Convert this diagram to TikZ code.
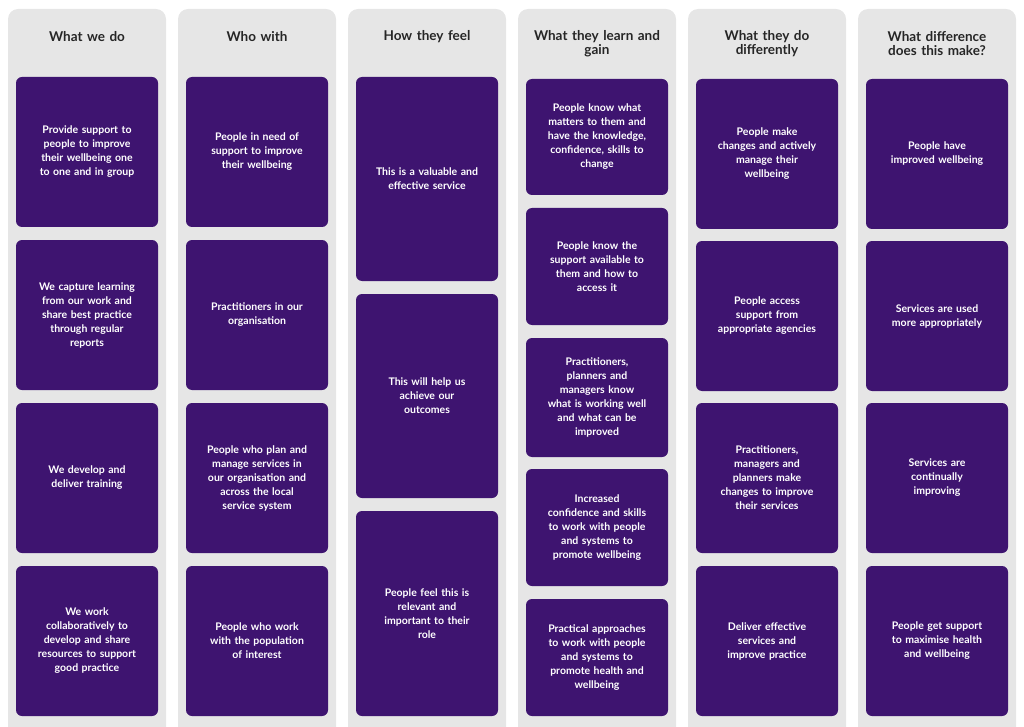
\documentclass[tikz,border=0pt]{standalone}
\usepackage{fontspec}
\setmainfont{Lato}
\begin{document}
\begin{tikzpicture}[x=1pt,y=-1pt,
  col/.style={fill=colgray,rounded corners=10pt},
  card/.style={fill=cardpurple,text=white,rounded corners=6pt,align=center,text width=112pt,
    font=\fontsize{10.5}{14}\selectfont\bfseries, drop shadow/.style={}},
  head/.style={text=black!85,align=center,font=\fontsize{13.5}{14}\selectfont\bfseries,text width=150pt}]
\definecolor{colgray}{HTML}{E6E6E6}
\definecolor{cardpurple}{HTML}{3E1470}
\useasboundingbox (0,0) rectangle (1024,727);
% columns
\foreach \i in {0,...,5}{
  \fill[colgray,rounded corners=10pt] (8+\i*170,9) rectangle (166+\i*170,737);
}
\node[head] (h1) at (87,37) {What we do};
\node[head] (h2) at (257,37) {Who with};
\node[head] (h3) at (427,37) {How they feel};
\node[head] (h4) at (597,44) {What they learn and\\gain};
\node[head] (h5) at (767,44) {What they do\\differently};
\node[head] (h6) at (937,44) {What difference\\does this make?};
% helper macro for cards
\newcommand{\mycard}[6]{\fill[cardpurple,rounded corners=6pt] (#2,#3) rectangle (#4,#5);
  \node[card,fill=none] (#1) at ({(#2+#4)/2},{(#3+#5)/2}) {#6};}
% col1
\mycard{a1}{16}{77}{158}{227}{Provide support to\\people to improve\\their wellbeing one\\to one and in group}
\mycard{a2}{16}{240}{158}{390}{We capture learning\\from our work and\\share best practice\\through regular\\reports}
\mycard{a3}{16}{403}{158}{553}{We develop and\\deliver training}
\mycard{a4}{16}{566}{158}{716}{We work\\collaboratively to\\develop and share\\resources to support\\good practice}
% col2
\mycard{b1}{186}{77}{328}{227}{People in need of\\support to improve\\their wellbeing}
\mycard{b2}{186}{240}{328}{390}{Practitioners in our\\organisation}
\mycard{b3}{186}{403}{328}{553}{People who plan and\\manage services in\\our organisation and\\across the local\\service system}
\mycard{b4}{186}{566}{328}{716}{People who work\\with the population\\of interest}
% col3
\mycard{c1}{356}{77}{498}{281}{This is a valuable and\\effective service}
\mycard{c2}{356}{294}{498}{498}{This will help us\\achieve our\\outcomes}
\mycard{c3}{356}{511}{498}{716}{People feel this is\\relevant and\\important to their\\role}
% col4
\mycard{d1}{526}{79}{668}{195}{People know what\\matters to them and\\have the knowledge,\\confidence, skills to\\change}
\mycard{d2}{526}{208}{668}{325}{People know the\\support available to\\them and how to\\access it}
\mycard{d3}{526}{338}{668}{457}{Practitioners,\\planners and\\managers know\\what is working well\\and what can be\\improved}
\mycard{d4}{526}{469}{668}{586}{Increased\\confidence and skills\\to work with people\\and systems to\\promote wellbeing}
\mycard{d5}{526}{599}{668}{716}{Practical approaches\\to work with people\\and systems to\\promote health and\\wellbeing}
% col5
\mycard{e1}{696}{79}{838}{229}{People make\\changes and actively\\manage their\\wellbeing}
\mycard{e2}{696}{241}{838}{391}{People access\\support from\\appropriate agencies}
\mycard{e3}{696}{403}{838}{553}{Practitioners,\\managers and\\planners make\\changes to improve\\their services}
\mycard{e4}{696}{566}{838}{716}{Deliver effective\\services and\\improve practice}
% col6
\mycard{f1}{866}{79}{1008}{229}{People have\\improved wellbeing}
\mycard{f2}{866}{241}{1008}{391}{Services are used\\more appropriately}
\mycard{f3}{866}{403}{1008}{553}{Services are\\continually\\improving}
\mycard{f4}{866}{566}{1008}{716}{People get support\\to maximise health\\and wellbeing}
\end{tikzpicture}
\end{document}
